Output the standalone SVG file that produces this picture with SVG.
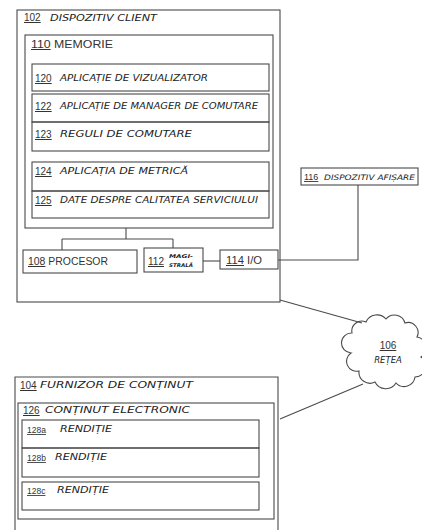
<svg xmlns="http://www.w3.org/2000/svg" width="422" height="530" viewBox="0 0 422 530">
<style>
.box{fill:none;stroke:#4a4a4a;stroke-width:1.1}
.ln{fill:none;stroke:#4a4a4a;stroke-width:1.1}
.num{font-family:"Liberation Sans",Arial,sans-serif;font-size:10px;fill:#333;text-decoration:underline}
.pr{font-family:"Liberation Sans",Arial,sans-serif;font-size:10px;fill:#333}
.hw{font-family:"DejaVu Sans",sans-serif;font-style:italic;font-size:8.5px;fill:#222}
.sm{font-family:"DejaVu Sans",sans-serif;font-style:italic;font-size:5px;fill:#222;font-weight:bold}
</style>
<rect width="422" height="530" fill="#fff"/>
<g id="n102">
<rect class="box" x="17" y="10" width="263" height="292"/>
<text class="num" x="24" y="21">102</text>
<text class="hw" x="50" y="21" textLength="107" lengthAdjust="spacingAndGlyphs">DISPOZITIV CLIENT</text>
</g>
<g id="n110">
<rect class="box" x="25" y="35" width="248" height="193"/>
<text class="pr" x="31" y="48" textLength="82" lengthAdjust="spacingAndGlyphs"><tspan text-decoration="underline">110</tspan> MEMORIE</text>
</g>
<g id="n120">
<rect class="box" x="32" y="64" width="237" height="27"/>
<text class="num" x="35" y="82">120</text>
<text class="hw" x="60" y="81" textLength="148" lengthAdjust="spacingAndGlyphs">APLICAȚIE DE VIZUALIZATOR</text>
</g>
<g id="n122">
<rect class="box" x="32" y="94" width="237" height="28"/>
<text class="num" x="35" y="110">122</text>
<text class="hw" x="60" y="109" textLength="198" lengthAdjust="spacingAndGlyphs">APLICAȚIE DE MANAGER DE COMUTARE</text>
</g>
<g id="n123">
<rect class="box" x="32" y="122" width="237" height="29"/>
<text class="num" x="35" y="138">123</text>
<text class="hw" x="60" y="137" textLength="132" lengthAdjust="spacingAndGlyphs">REGULI DE COMUTARE</text>
</g>
<g id="n124">
<rect class="box" x="32" y="162" width="237" height="29"/>
<text class="num" x="35" y="175">124</text>
<text class="hw" x="60" y="174" textLength="128" lengthAdjust="spacingAndGlyphs">APLICAȚIA DE METRICĂ</text>
</g>
<g id="n125">
<rect class="box" x="32" y="191" width="237" height="27"/>
<text class="num" x="35" y="204">125</text>
<text class="hw" x="60" y="203" textLength="198" lengthAdjust="spacingAndGlyphs">DATE DESPRE CALITATEA SERVICIULUI</text>
</g>
<g id="n108">
<rect class="box" x="23" y="250" width="114" height="23"/>
<text class="pr" x="28" y="265" textLength="80" lengthAdjust="spacingAndGlyphs"><tspan text-decoration="underline">108</tspan> PROCESOR</text>
</g>
<g id="n112">
<rect class="box" x="144" y="248" width="59" height="24"/>
<text class="num" x="148" y="265">112</text>
<text class="sm" x="169" y="258" textLength="24" lengthAdjust="spacingAndGlyphs">MAGI-</text>
<text class="sm" x="169" y="267" textLength="24" lengthAdjust="spacingAndGlyphs">STRALĂ</text>
</g>
<g id="n114">
<rect class="box" x="220" y="250" width="58" height="19"/>
<text class="pr" x="226" y="264" textLength="36" lengthAdjust="spacingAndGlyphs"><tspan text-decoration="underline">114</tspan> I/O</text>
</g>
<g id="n116">
<rect class="box" x="301" y="168" width="117" height="17"/>
<text class="num" x="304" y="180" style="font-size:9px">116</text>
<text class="hw" x="324" y="180" textLength="91" lengthAdjust="spacingAndGlyphs" style="font-size:7.5px">DISPOZITIV AFIȘARE</text>
</g>
<g id="n106">
<path class="box" d="M352,333 A10,10 0 0 1 366,322 A12,12 0 0 1 386,319 A11,11 0 0 1 405,323 A10,10 0 0 1 417,337 A11,11 0 0 1 421,357 A11,11 0 0 1 415,377 A11,11 0 0 1 396,383 A12,12 0 0 1 375,382 A11,11 0 0 1 359,371 A10,10 0 0 1 351,353 A10,10 0 0 1 352,333 Z"/>
<text class="num" x="388" y="349" text-anchor="middle">106</text>
<text class="hw" x="388" y="363" text-anchor="middle">REȚEA</text>
</g>
<g id="n104">
<path class="box" d="M15,535 V377 H278 V535"/>
<text class="num" x="20" y="389">104</text>
<text class="hw" x="40" y="388" textLength="153" lengthAdjust="spacingAndGlyphs">FURNIZOR DE CONȚINUT</text>
</g>
<g id="n126">
<rect class="box" x="18" y="403" width="256" height="116"/>
<text class="num" x="23" y="414">126</text>
<text class="hw" x="45" y="413" textLength="145" lengthAdjust="spacingAndGlyphs">CONȚINUT ELECTRONIC</text>
</g>
<g id="n128a">
<rect class="box" x="22" y="420" width="237" height="28"/>
<text class="num" x="27" y="433" style="font-size:8.5px">128a</text>
<text class="hw" x="60" y="432" textLength="52" lengthAdjust="spacingAndGlyphs">RENDIȚIE</text>
</g>
<g id="n128b">
<rect class="box" x="22" y="448" width="237" height="29"/>
<text class="num" x="27" y="461" style="font-size:8.5px">128b</text>
<text class="hw" x="55" y="460" textLength="52" lengthAdjust="spacingAndGlyphs">RENDIȚIE</text>
</g>
<g id="n128c">
<rect class="box" x="22" y="482" width="237" height="28"/>
<text class="num" x="27" y="494" style="font-size:8.5px">128c</text>
<text class="hw" x="57" y="493" textLength="52" lengthAdjust="spacingAndGlyphs">RENDIȚIE</text>
</g>
<g id="connectors">
<path class="ln" d="M126,228 V239 M62,239 H173 M62,239 V250 M173,239 V248"/>
<path class="ln" d="M203,261 H220"/>
<path class="ln" d="M278,260 H358 V185"/>
<path class="ln" d="M280,300 L362,323"/>
<path class="ln" d="M280,419 L363,384"/>
</g>
</svg>
